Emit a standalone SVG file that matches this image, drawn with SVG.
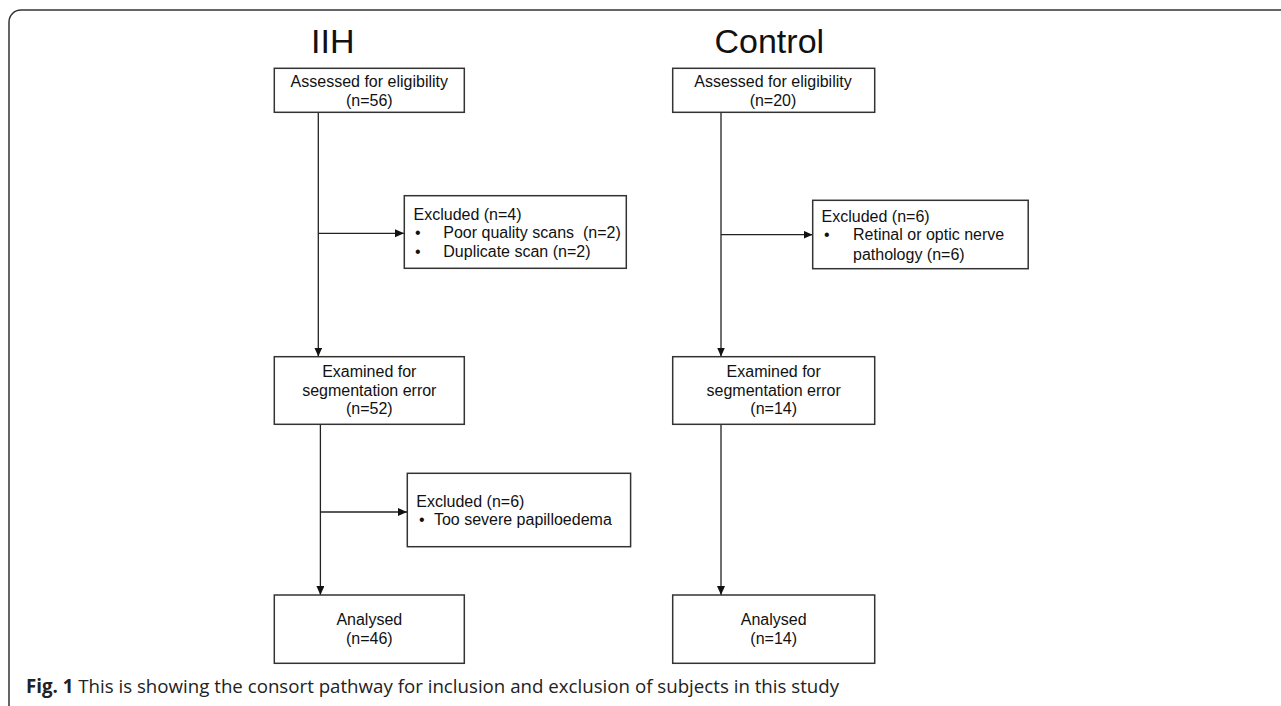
<svg xmlns="http://www.w3.org/2000/svg" width="1281" height="706" viewBox="0 0 1281 706">
<style>
.box{fill:#fff;stroke:#333;stroke-width:1.5}
.t{font-family:"Liberation Sans",Arial,sans-serif;font-size:16px;fill:#111}
.c{text-anchor:middle}
.title{font-family:"Liberation Sans",Arial,sans-serif;font-size:34px;fill:#111}
.ln{stroke:#222;stroke-width:1.3;fill:none}
.cap{font-family:"Open Sans",sans-serif;font-size:18.7px;fill:#222}
.pre{white-space:pre}
</style>
<defs>
<marker id="ah" markerWidth="10" markerHeight="9" refX="9" refY="4" orient="auto" markerUnits="userSpaceOnUse">
<path d="M0,0 L9,4 L0,8 z" fill="#111"/>
</marker>
</defs>
<rect x="9" y="10" width="1300" height="720" rx="12" fill="none" stroke="#333" stroke-width="1.5"/>
<text class="title" x="311" y="53">IIH</text>
<text class="title" x="714.5" y="53">Control</text>
<g id="connectors">
<line class="ln" x1="318.3" y1="112.3" x2="318.3" y2="356.5" marker-end="url(#ah)"/>
<line class="ln" x1="318.3" y1="233.3" x2="404" y2="233.3" marker-end="url(#ah)"/>
<line class="ln" x1="320.4" y1="424.3" x2="320.4" y2="595" marker-end="url(#ah)"/>
<line class="ln" x1="320.4" y1="512" x2="407" y2="512" marker-end="url(#ah)"/>
<line class="ln" x1="721" y1="112.3" x2="721" y2="356.5" marker-end="url(#ah)"/>
<line class="ln" x1="721" y1="234.7" x2="812.5" y2="234.7" marker-end="url(#ah)"/>
<line class="ln" x1="721" y1="424.3" x2="721" y2="595" marker-end="url(#ah)"/>
</g>
<g id="iih-assessed">
<rect class="box" x="274.3" y="68.3" width="190" height="44"/>
<text class="t c" x="369.3" y="87.3">Assessed for eligibility</text>
<text class="t c" x="369.3" y="106">(n=56)</text>
</g>
<g id="iih-excluded1">
<rect class="box" x="404.3" y="195.7" width="222" height="72.6"/>
<text class="t" x="413.5" y="220">Excluded (n=4)</text>
<text class="t" x="415" y="238">•</text>
<text class="t pre" x="443.3" y="238">Poor quality scans  (n=2)</text>
<text class="t" x="415" y="256.7">•</text>
<text class="t" x="443.3" y="256.7">Duplicate scan (n=2)</text>
</g>
<g id="iih-examined">
<rect class="box" x="274.3" y="356.7" width="190" height="67.6"/>
<text class="t c" x="369.3" y="377.3">Examined for</text>
<text class="t c" x="369.3" y="395.7">segmentation error</text>
<text class="t c" x="369.3" y="414.3">(n=52)</text>
</g>
<g id="iih-excluded2">
<rect class="box" x="407.3" y="473.3" width="223.3" height="73.4"/>
<text class="t" x="416.3" y="506.7">Excluded (n=6)</text>
<text class="t" x="419" y="525">•</text>
<text class="t" x="433.9" y="525">Too severe papilloedema</text>
</g>
<g id="iih-analysed">
<rect class="box" x="274.3" y="595" width="190" height="68.3"/>
<text class="t c" x="369.3" y="625">Analysed</text>
<text class="t c" x="369.3" y="644.3">(n=46)</text>
</g>
<g id="ctrl-assessed">
<rect class="box" x="672.7" y="68.3" width="202" height="44"/>
<text class="t c" x="773" y="87.3">Assessed for eligibility</text>
<text class="t c" x="773" y="106">(n=20)</text>
</g>
<g id="ctrl-excluded">
<rect class="box" x="812.7" y="200.3" width="215.5" height="68.4"/>
<text class="t" x="821.6" y="221.7">Excluded (n=6)</text>
<text class="t" x="824" y="240">•</text>
<text class="t" x="853" y="240">Retinal or optic nerve</text>
<text class="t" x="853" y="260">pathology (n=6)</text>
</g>
<g id="ctrl-examined">
<rect class="box" x="672.7" y="356.7" width="202" height="67.6"/>
<text class="t c" x="773.7" y="377.3">Examined for</text>
<text class="t c" x="773.7" y="395.7">segmentation error</text>
<text class="t c" x="773.7" y="414.3">(n=14)</text>
</g>
<g id="ctrl-analysed">
<rect class="box" x="672.7" y="595" width="202" height="68.3"/>
<text class="t c" x="773.7" y="625">Analysed</text>
<text class="t c" x="773.7" y="644.3">(n=14)</text>
</g>
<text class="cap" x="26" y="693"><tspan font-weight="bold">Fig. 1</tspan> This is showing the consort pathway for inclusion and exclusion of subjects in this study</text>
</svg>
